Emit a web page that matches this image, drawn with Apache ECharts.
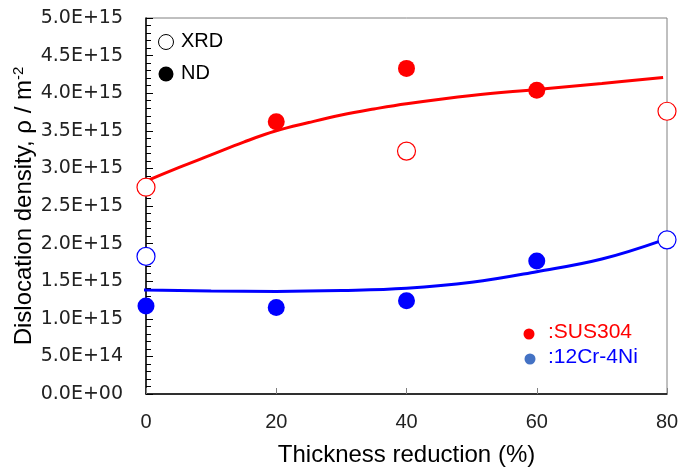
<!DOCTYPE html>
<html>
<head>
<meta charset="utf-8">
<script src="https://cdn.jsdelivr.net/npm/echarts@6/dist/echarts.min.js"></script>
<style>
html,body{margin:0;padding:0;background:#fff;}
#c{width:685px;height:468px;}
</style>
</head>
<body>
<div id="c"></div>
<script>
// ---- data ----
var xTicks = [0, 20, 40, 60, 80];
var yTickLabels = ['0.0E+00','5.0E+14','1.0E+15','1.5E+15','2.0E+15','2.5E+15','3.0E+15','3.5E+15','4.0E+15','4.5E+15','5.0E+15'];

var susXRD_x = [0, 40, 80];
var susXRD_y = [2.75e15, 3.23e15, 3.76e15];
var susND_x = [20, 40, 60];
var susND_y = [3.62e15, 4.33e15, 4.04e15];

var crXRD_x = [0, 80];
var crXRD_y = [1.83e15, 2.05e15];
var crND_x = [0, 20, 40, 60];
var crND_y = [1.17e15, 1.15e15, 1.24e15, 1.77e15];

var susFit_x = [-2, 0, 5, 10, 15, 20, 25, 30, 35, 40, 50, 60, 70, 79.4];
var susFit_y = [2.75e15, 2.83e15, 3.01e15, 3.18e15, 3.35e15, 3.50e15, 3.61e15, 3.71e15, 3.79e15, 3.86e15, 3.97e15, 4.05e15, 4.13e15, 4.21e15];
var crFit_x = [-2, 0, 10, 20, 30, 40, 50, 60, 70, 79.5];
var crFit_y = [1.387e15, 1.383e15, 1.37e15, 1.364e15, 1.375e15, 1.405e15, 1.485e15, 1.627e15, 1.795e15, 2.05e15];

function pairs(xs, ys){ return xs.map(function(x,i){ return [x, ys[i]]; }); }

var RED = '#ff0000', BLUE = '#0000ff';
var FONT = 'Liberation Sans';
var TICKFONT = 'DejaVu Sans';

var chart = echarts.init(document.getElementById('c'));
chart.setOption({
  animation: false,
  backgroundColor: '#fff',
  grid: { left: 146, top: 18, right: 18, bottom: 74, show: true, borderColor: '#808080', borderWidth: 1,
          containLabel: false, outerBoundsMode: 'none' },
  xAxis: {
    type: 'value', min: 0, max: 80, interval: 20,
    name: 'Thickness reduction (%)', nameLocation: 'middle', nameGap: 49, nameMoveOverlap: false,
    nameTextStyle: { fontFamily: FONT, fontSize: 24, color: '#000' },
    axisLine: { show: true, onZero: false, lineStyle: { color: '#000', width: 1.5 } },
    axisTick: { show: true, inside: true, length: 6, lineStyle: { color: '#808080' } },
    axisLabel: { margin: 18, fontFamily: FONT, fontSize: 20, color: '#222',
      formatter: function(v){ return xTicks.indexOf(v) >= 0 ? String(v) : ''; } },
    splitLine: { show: false }
  },
  yAxis: {
    type: 'value', min: 0, max: 5e15, interval: 5e14,
    name: 'Dislocation density, ρ / m{sup|-2}', nameLocation: 'middle', nameGap: 108, nameRotate: 90,
    nameMoveOverlap: false,
    nameTextStyle: { fontFamily: FONT, fontSize: 24, color: '#000',
      rich: { sup: { fontFamily: FONT, fontSize: 15, color: '#000', verticalAlign: 'top', padding: [0,0,12,0] } } },
    axisLine: { show: true, onZero: false, lineStyle: { color: '#000', width: 1.5 } },
    axisTick: { show: true, inside: true, length: 7, lineStyle: { color: '#000' } },
    minorTick: { show: true, splitNumber: 5, length: 5, lineStyle: { color: '#000' } },
    axisLabel: { margin: 23, fontFamily: TICKFONT, fontSize: 19, color: '#222',
      formatter: function(v){ return yTickLabels[Math.round(v / 5e14)]; } },
    splitLine: { show: false }
  },
  series: [
    { type: 'line', data: pairs(susFit_x, susFit_y), smooth: 0.4, showSymbol: false, clip: false,
      lineStyle: { color: RED, width: 3 }, z: 2 },
    { type: 'line', data: pairs(crFit_x, crFit_y), smooth: 0.4, showSymbol: false, clip: false,
      lineStyle: { color: BLUE, width: 3 }, z: 2 },
    { type: 'scatter', data: pairs(susXRD_x, susXRD_y), symbol: 'circle', symbolSize: 18, clip: false,
      itemStyle: { color: '#fff', borderColor: RED, borderWidth: 1.2, opacity: 1 }, z: 5 },
    { type: 'scatter', data: pairs(susND_x, susND_y), symbol: 'circle', symbolSize: 17, clip: false,
      itemStyle: { color: RED, opacity: 1 }, z: 5 },
    { type: 'scatter', data: pairs(crXRD_x, crXRD_y), symbol: 'circle', symbolSize: 18, clip: false,
      itemStyle: { color: '#fff', borderColor: BLUE, borderWidth: 1.2, opacity: 1 }, z: 5 },
    { type: 'scatter', data: pairs(crND_x, crND_y), symbol: 'circle', symbolSize: 17, clip: false,
      itemStyle: { color: BLUE, opacity: 1 }, z: 5 }
  ],
  graphic: [
    { type: 'circle', shape: { cx: 166, cy: 42, r: 7.5 }, style: { fill: '#fff', stroke: '#000', lineWidth: 1 }, z: 10 },
    { type: 'text', left: 181, top: 31, style: { text: 'XRD', fontFamily: FONT, fontSize: 20, fill: '#000' }, z: 10 },
    { type: 'circle', shape: { cx: 166, cy: 74, r: 7.5 }, style: { fill: '#000' }, z: 10 },
    { type: 'text', left: 181, top: 63, style: { text: 'ND', fontFamily: FONT, fontSize: 20, fill: '#000' }, z: 10 },
    { type: 'circle', shape: { cx: 529, cy: 334, r: 5.5 }, style: { fill: RED }, z: 10 },
    { type: 'text', left: 548, top: 322, style: { text: ':SUS304', fontFamily: FONT, fontSize: 21, fill: RED }, z: 10 },
    { type: 'circle', shape: { cx: 530, cy: 359, r: 5.5 }, style: { fill: '#4472c4' }, z: 10 },
    { type: 'text', left: 548, top: 347, style: { text: ':12Cr-4Ni', fontFamily: FONT, fontSize: 21, fill: BLUE }, z: 10 }
  ]
});
</script>
</body>
</html>
